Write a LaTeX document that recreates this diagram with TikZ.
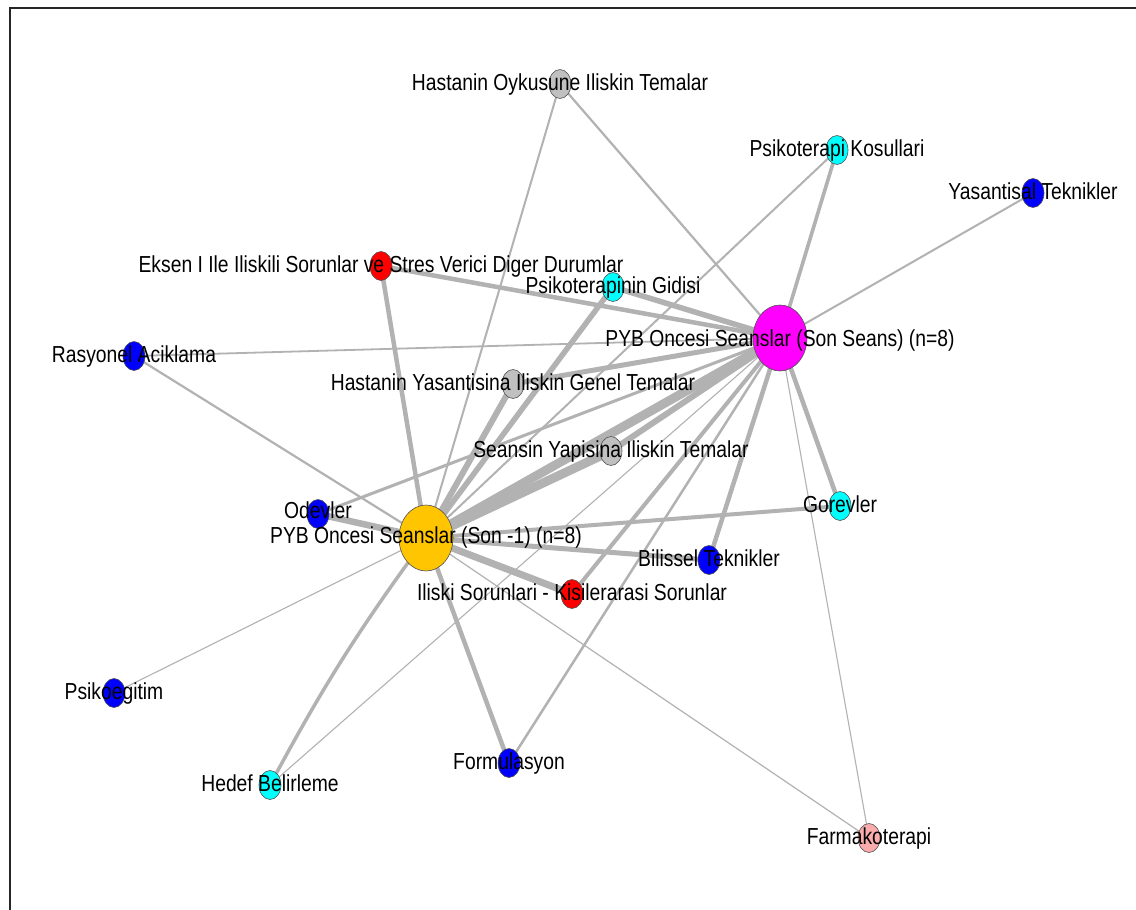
\documentclass[tikz,border=0pt]{standalone}
\usepackage{fontspec}
\setmainfont{Liberation Sans}
\usetikzlibrary{shapes.geometric}
\definecolor{edgec}{RGB}{178,178,178}
\definecolor{cgold}{RGB}{255,197,0}
\definecolor{cmag}{RGB}{255,0,255}
\definecolor{ccyan}{RGB}{0,255,255}
\definecolor{cblue}{RGB}{0,0,255}
\definecolor{cred}{RGB}{255,0,0}
\definecolor{cgray}{RGB}{192,192,192}
\definecolor{cpink}{RGB}{250,172,172}
\definecolor{outl}{RGB}{80,80,80}
\newcommand{\stx}[1]{\scalebox{1}[1.2]{#1}}
\pgfdeclarelayer{edges}
\pgfsetlayers{edges,main}
\tikzset{
  vtx/.style={ellipse, draw=outl, line width=0.6pt, inner sep=0pt, minimum width=22pt, minimum height=29pt},
  bigv/.style={ellipse, draw=outl, line width=0.6pt, inner sep=0pt, minimum width=54pt, minimum height=66pt},
  e/.style={draw=edgec},
  lab/.style={anchor=base, inner sep=0pt, font=\fontsize{19.3}{20}\selectfont}
}
\begin{document}
\begin{tikzpicture}[x=1pt,y=1pt]
\useasboundingbox (0,0) rectangle (1136,-910);

% nodes
\node[vtx, fill=cgray] (HO) at (560,-84) {};
\node[vtx, fill=ccyan] (PK) at (837,-150) {};
\node[vtx, fill=cblue] (YT) at (1033,-193) {};
\node[vtx, fill=cred] (E) at (381,-266) {};
\node[vtx, fill=ccyan] (PG) at (613,-287) {};
\node[bigv, fill=cmag] (M) at (780,-338) {};
\node[vtx, fill=cblue] (RA) at (134,-356) {};
\node[vtx, fill=cgray] (HY) at (513,-384) {};
\node[vtx, fill=cgray] (SY) at (611,-451) {};
\node[vtx, fill=cblue] (O) at (318,-514) {};
\node[bigv, fill=cgold] (G) at (426,-538) {};
\node[vtx, fill=ccyan] (GO) at (840,-506) {};
\node[vtx, fill=cblue] (BT) at (709,-560) {};
\node[vtx, fill=cred] (IS) at (572,-594) {};
\node[vtx, fill=cblue] (PE) at (114,-693) {};
\node[vtx, fill=cblue] (F) at (509,-763) {};
\node[vtx, fill=ccyan] (HB) at (270,-785) {};
\node[vtx, fill=cpink] (FK) at (869,-838) {};

% edges
\begin{pgfonlayer}{edges}
\fill[white] (0,0) rectangle (1136,-910);
\draw[line width=2pt, black!85] (9.5,-910) -- (9.5,-7.5) -- (1136,-7.5);
\draw[e, line width=2.2pt] (HO.center) -- (M.center);
\draw[e, line width=2pt] (HO.center) -- (G.center);
\draw[e, line width=3.6pt] (PK.center) -- (M.center);
\draw[e, line width=2pt] (PK.center) -- (G.center);
\draw[e, line width=2pt] (YT.center) -- (M.center);
\draw[e, line width=4.5pt] (E.center) -- (M.center);
\draw[e, line width=4.5pt] (E.center) -- (G.center);
\draw[e, line width=5.5pt] (PG.center) -- (M.center);
\draw[e, line width=5.5pt] (PG.center) -- (G.center);
\draw[e, line width=1.8pt] (RA.center) -- (M.center);
\draw[e, line width=2.2pt] (RA.center) -- (G.center);
\draw[e, line width=5pt] (HY.center) -- (M.center);
\draw[e, line width=6pt] (HY.center) -- (G.center);
\draw[e, line width=6pt] (SY.center) -- (M.center);
\draw[e, line width=9pt] (SY.center) -- (G.center);
\draw[e, line width=9pt] (G.center) -- (M.center);
\draw[e, line width=3pt] (O.center) -- (M.center);
\draw[e, line width=6.5pt] (O.center) -- (G.center);
\draw[e, line width=4.5pt] (GO.center) -- (M.center);
\draw[e, line width=4pt] (GO.center) -- (G.center);
\draw[e, line width=4.5pt] (BT.center) -- (M.center);
\draw[e, line width=5pt] (BT.center) -- (G.center);
\draw[e, line width=4pt] (IS.center) -- (M.center);
\draw[e, line width=7pt] (IS.center) -- (G.center);
\draw[e, line width=1.1pt] (PE.center) -- (G.center);
\draw[e, line width=2.5pt] (F.center) -- (M.center);
\draw[e, line width=4.5pt] (F.center) -- (G.center);
\draw[e, line width=1.1pt] (HB.center) -- (M.center);
\draw[e, line width=3.5pt] (HB.center) to[bend left=4] (G.center);
\draw[e, line width=1.1pt] (FK.center) -- (M.center);
\draw[e, line width=1.2pt] (FK.center) -- (G.center);
\end{pgfonlayer}

% labels
\node[lab] (HOl) at ([yshift=-6pt]HO.center) {\stx{Hastanin Oykusune Iliskin Temalar}};
\node[lab] (PKl) at ([yshift=-6pt]PK.center) {\stx{Psikoterapi Kosullari}};
\node[lab] (YTl) at ([yshift=-6pt]YT.center) {\stx{Yasantisal Teknikler}};
\node[lab] (El) at ([yshift=-6pt]E.center) {\stx{Eksen I Ile Iliskili Sorunlar ve Stres Verici Diger Durumlar}};
\node[lab] (PGl) at ([yshift=-6pt]PG.center) {\stx{Psikoterapinin Gidisi}};
\node[lab] (Ml) at ([yshift=-8pt]M.center) {\stx{PYB Oncesi Seanslar (Son Seans) (n=8)}};
\node[lab] (RAl) at ([yshift=-6pt]RA.center) {\stx{Rasyonel Aciklama}};
\node[lab] (HYl) at ([yshift=-6pt]HY.center) {\stx{Hastanin Yasantisina Iliskin Genel Temalar}};
\node[lab] (SYl) at ([yshift=-6pt]SY.center) {\stx{Seansin Yapisina Iliskin Temalar}};
\node[lab] (Ol) at ([yshift=-4pt]O.center) {\stx{Odevler}};
\node[lab] (Gl) at ([yshift=-5pt]G.center) {\stx{PYB Oncesi Seanslar (Son -1) (n=8)}};
\node[lab] (GOl) at ([yshift=-6pt]GO.center) {\stx{Gorevler}};
\node[lab] (BTl) at ([yshift=-6pt]BT.center) {\stx{Bilissel Teknikler}};
\node[lab] (ISl) at ([yshift=-6pt]IS.center) {\stx{Iliski Sorunlari - Kisilerarasi Sorunlar}};
\node[lab] (PEl) at ([yshift=-6pt]PE.center) {\stx{Psikoegitim}};
\node[lab] (Fl) at ([yshift=-6pt]F.center) {\stx{Formulasyon}};
\node[lab] (HBl) at ([yshift=-6pt]HB.center) {\stx{Hedef Belirleme}};
\node[lab] (FKl) at ([yshift=-6pt]FK.center) {\stx{Farmakoterapi}};
\end{tikzpicture}
\end{document}
